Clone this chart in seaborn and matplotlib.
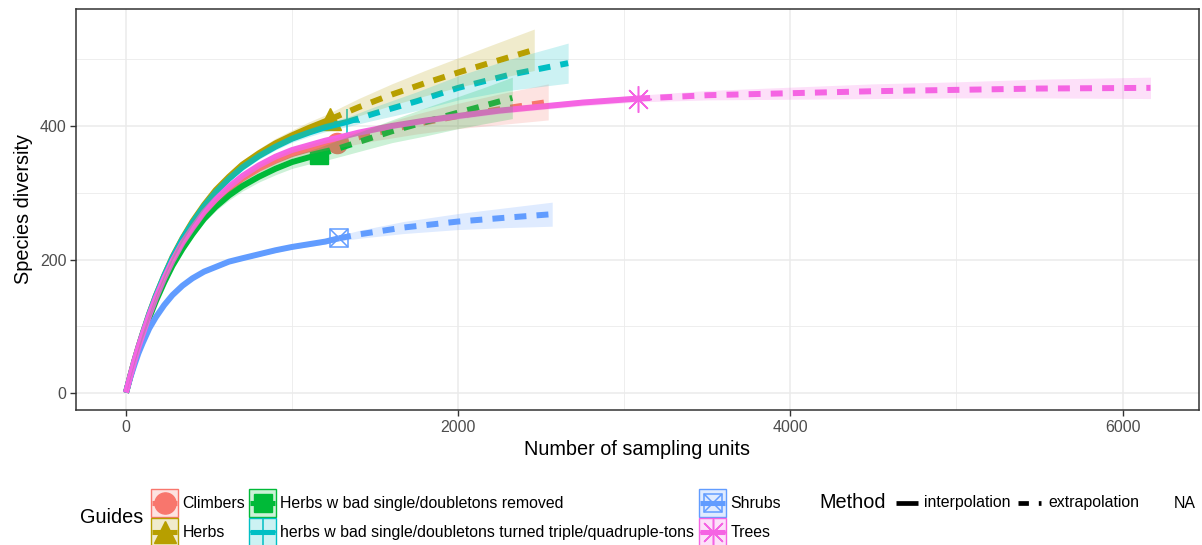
import numpy as np
import pandas as pd
import matplotlib
matplotlib.use("Agg")
import matplotlib.pyplot as plt
import seaborn as sns
from matplotlib.patches import Rectangle
from matplotlib.colors import to_rgba
from matplotlib.ticker import FixedLocator

groups = ["Climbers", "Herbs", "Herbs w bad single/doubletons removed",
          "herbs w bad single/doubletons turned triple/quadruple-tons", "Shrubs", "Trees"]
colors = ["#F8766D", "#B79F00", "#00BA38", "#00BFC4", "#619CFF", "#F564E3"]
methods = ["interpolation", "extrapolation", "NA"]

# observed (reference) sample sizes and diversity
obs_n = [1271, 1229, 1163, 1331, 1283, 3084]
obs_s = [375, 410, 357, 406, 232, 441]

climbers_x = [0, 25, 50, 75, 100, 140, 180, 230, 280, 340, 400, 470, 540, 620, 700, 800, 900, 1000, 1100, 1200,
              1271, 1500, 1750, 2000, 2250, 2542]
climbers_y = [1, 25, 48, 69, 88, 117, 143, 172, 197, 224, 246, 269, 288, 306, 321, 336, 348, 358, 365, 371,
              375, 389, 403, 415, 425, 436]
climbers_hw = [0, 0.5, 1, 1, 1.5, 2, 2, 2.5, 3, 3, 3.5, 4, 4.5, 5, 5, 5.5, 6, 6.5, 7, 7.5,
               8, 11, 15, 19, 23, 27]

herbs_x = [0, 25, 50, 75, 100, 140, 180, 230, 280, 340, 400, 470, 540, 620, 700, 800, 900, 1000, 1100, 1200,
           1229, 1400, 1600, 1800, 2000, 2200, 2458]
herbs_y = [1, 25, 48, 69, 89, 119, 146, 176, 204, 232, 257, 282, 304, 324, 342, 359, 374, 386, 397, 407,
           410, 428, 447, 464, 480, 495, 514]
herbs_hw = [0, 0.5, 1, 1.5, 2, 2, 2.5, 3, 3.5, 4, 4.5, 5, 5.5, 6, 6.5, 7, 7.5, 8, 9, 9.5,
            10, 13, 16, 19, 22, 26, 31]

removed_x = [0, 25, 50, 75, 100, 140, 180, 230, 280, 340, 400, 470, 540, 620, 700, 800, 900, 1000, 1100,
             1163, 1300, 1450, 1600, 1800, 2000, 2150, 2326]
removed_y = [1, 24, 46, 66, 85, 113, 138, 166, 191, 216, 238, 261, 279, 296, 310, 324, 336, 346, 353,
             357, 368, 380, 392, 406, 420, 430, 442]
removed_hw = [0, 1, 1, 1.5, 2, 2.5, 3, 3.5, 4, 4.5, 5, 5.5, 6, 7, 7.5, 8, 9, 9.5, 10,
              11, 13, 15, 17, 21, 24, 27, 31]

turned_x = [0, 25, 50, 75, 100, 140, 180, 230, 280, 340, 400, 470, 540, 620, 700, 800, 900, 1000, 1100, 1200,
            1331, 1500, 1750, 2000, 2300, 2662]
turned_y = [1, 25, 48, 69, 89, 119, 146, 176, 203, 231, 255, 280, 301, 321, 338, 355, 369, 381, 390, 398,
            406, 419, 437, 457, 476, 494]
turned_hw = [0, 0.5, 1, 1, 1.5, 1.5, 2, 2, 2.5, 3, 3, 3.5, 4, 4, 4.5, 5, 5, 5.5, 6, 6.5,
             7, 10, 14, 18, 23, 30]

shrubs_x = [0, 25, 50, 75, 100, 140, 180, 230, 280, 340, 400, 470, 540, 620, 700, 800, 900, 1000, 1100, 1200,
            1283, 1408, 1670, 2000, 2300, 2566]
shrubs_y = [1, 23, 42, 60, 75, 97, 114, 132, 147, 161, 172, 182, 189, 197, 202, 208, 214, 219, 223, 227,
            232, 238, 248, 257, 263, 268]
shrubs_hw = [0, 0.5, 0.5, 1, 1, 1, 1.5, 1.5, 1.5, 2, 2, 2, 2.5, 2.5, 2.5, 3, 3, 3, 3.5, 3.5,
             4, 6, 9, 12, 15, 18]

trees_x = [0, 25, 50, 75, 100, 140, 180, 230, 280, 340, 400, 470, 540, 620, 700, 800, 900, 1000, 1100, 1200,
           1271, 1400, 1600, 1800, 2000, 2250, 2500, 2750, 3084,
           3500, 4000, 4500, 5000, 5500, 6168]
trees_y = [1, 25, 48, 69, 88, 117, 143, 172, 198, 225, 247, 271, 290, 309, 325, 341, 354, 364, 371, 378,
           382, 390, 400, 408, 415, 423, 429, 435, 441,
           446, 449, 452, 454, 456, 457]
trees_hw = [0, 0.5, 0.5, 1, 1, 1, 1.5, 1.5, 1.5, 2, 2, 2, 2.5, 2.5, 2.5, 3, 3, 3, 3.5, 3.5,
            3.5, 4, 4, 4, 4.5, 4.5, 4.5, 5, 5,
            7, 9, 11, 12, 14, 16]

xticks = [0, 2000, 4000, 6000]
yticks = [0, 200, 400]

series_x = [climbers_x, herbs_x, removed_x, turned_x, shrubs_x, trees_x]
series_y = [climbers_y, herbs_y, removed_y, turned_y, shrubs_y, trees_y]
series_hw = [climbers_hw, herbs_hw, removed_hw, turned_hw, shrubs_hw, trees_hw]

rows = []
for g, xs, ys, n in zip(groups, series_x, series_y, obs_n):
    for x, y in zip(xs, ys):
        if x <= n:
            rows.append((g, "interpolation", x, y))
        if x >= n:
            rows.append((g, "extrapolation", x, y))
df = pd.DataFrame(rows, columns=["group", "method", "x", "y"])

sns.set_theme(style="white")
plt.rcParams["font.family"] = ["Liberation Sans", "DejaVu Sans"]

fig = plt.figure(figsize=(12.02, 5.45), dpi=100)
ax = fig.add_axes([76 / 1202, 1 - 410 / 545, (1199 - 76) / 1202, (410 - 9) / 545])

LW = 4.3
palette = dict(zip(groups, colors))


def draw_marker(axis, x, y, i, scale=1.0, zorder=2):
    c = colors[i]
    if i == 0:
        axis.plot([x], [y], marker="o", ms=14.5 * scale, color=c, mec=c, ls="none", zorder=zorder)
    elif i == 1:
        axis.plot([x], [y], marker="^", ms=15.5 * scale, color=c, mec=c, ls="none", zorder=zorder)
    elif i == 2:
        axis.plot([x], [y], marker="s", ms=12.8 * scale, color=c, mec=c, ls="none", zorder=zorder)
    elif i == 3:
        axis.plot([x], [y], marker="+", ms=19 * scale, mec=c, mew=1.1, ls="none", zorder=zorder)
    elif i == 4:
        axis.plot([x], [y], marker="s", ms=13.5 * scale, mfc="none", mec=c, mew=1.1, ls="none", zorder=zorder)
        axis.plot([x], [y], marker="x", ms=13.5 * scale, mec=c, mew=1.1, ls="none", zorder=zorder)
    else:
        axis.plot([x], [y], marker=(8, 2, 0), ms=19 * scale, mec=c, mew=1.1, ls="none", zorder=zorder)


# points first, then lines, then ribbons (ggiNEXT layer order)
for i in range(6):
    draw_marker(ax, obs_n[i], obs_s[i], i)

sns.lineplot(data=df, x="x", y="y", hue="group", style="method", hue_order=groups,
             style_order=methods[:2], palette=palette,
             dashes={"interpolation": "", "extrapolation": (2.0, 1.7)},
             estimator=None, linewidth=LW, legend=False, ax=ax, zorder=3)
for ln in ax.get_lines():
    if ln.get_marker() in (None, "None", "none", ""):
        ln.set_dash_capstyle("butt")
        ln.set_solid_capstyle("butt")
        ln.set_solid_joinstyle("round")

for c, xs, ys, hw in zip(colors, series_x, series_y, series_hw):
    xs = np.array(xs, float); ys = np.array(ys, float); hw = np.array(hw, float)
    ax.fill_between(xs, ys - hw, ys + hw, color=c, alpha=0.2, lw=0, zorder=4)

ax.set_xlim(-301, 6460)
ax.set_ylim(-25, 575)
ax.xaxis.set_major_locator(FixedLocator(xticks))
ax.yaxis.set_major_locator(FixedLocator(yticks))
ax.xaxis.set_minor_locator(FixedLocator([1000, 3000, 5000]))
ax.yaxis.set_minor_locator(FixedLocator([100, 300, 500]))
ax.grid(True, which="major", color="#EBEBEB", lw=1.1, zorder=0)
ax.grid(True, which="minor", color="#EBEBEB", lw=0.6, zorder=0)
ax.set_axisbelow(True)
for s in ax.spines.values():
    s.set_color("#333333"); s.set_linewidth(1.1)
ax.tick_params(which="major", length=4, width=1.0, color="#333333", labelsize=11.5,
               labelcolor="#4D4D4D", pad=3, bottom=True, left=True)
ax.tick_params(which="minor", length=0)
ax.set_xlabel("Number of sampling units", fontsize=14.3, color="black", labelpad=4)
ax.set_ylabel("Species diversity", fontsize=14.3, color="black", labelpad=5)

# ---- legends drawn on an overlay in figure pixel coordinates ----
lax = fig.add_axes([0, 0, 1, 1], facecolor="none")
lax.set_xlim(0, 1202)
lax.set_ylim(545, 0)
lax.axis("off")

key_cols = [151, 249, 699]
key_rows = [489, 518]
KW, KH = 27, 28
for i, (g, c) in enumerate(zip(groups, colors)):
    x0 = key_cols[i // 2]
    y0 = key_rows[i % 2]
    lax.add_patch(Rectangle((x0, y0), KW, KH, facecolor=to_rgba(c, 0.2), edgecolor=c, lw=1.0))
    cx, cy = x0 + KW / 2, y0 + KH / 2
    draw_marker(lax, cx, cy, i, scale=1.05 if i < 3 else 1.0)
    lax.plot([x0 + 1, x0 + KW - 1], [cy, cy], color=c, lw=LW * 0.85, solid_capstyle="butt")
    lax.text(x0 + KW + 4.5, cy + 0.5, g, fontsize=11.4, va="center", ha="left", color="black")
lax.text(80, 517.5, "Guides", fontsize=14.3, va="center", ha="left", color="black")

lax.text(819, 503, "Method", fontsize=14.3, va="center", ha="left", color="black")
lax.plot([896, 918], [503, 503], color="black", lw=3.4, solid_capstyle="butt")
lax.text(924, 503, methods[0], fontsize=11.4, va="center", ha="left", color="black")
lax.plot([1018, 1041], [503, 503], color="black", lw=3.4, dashes=(2.2, 2.1), dash_capstyle="butt")
lax.text(1048, 503, methods[1], fontsize=11.4, va="center", ha="left", color="black")
lax.text(1174, 503, methods[2], fontsize=11.4, va="center", ha="left", color="black")

fig.savefig("out.png", dpi=100)
